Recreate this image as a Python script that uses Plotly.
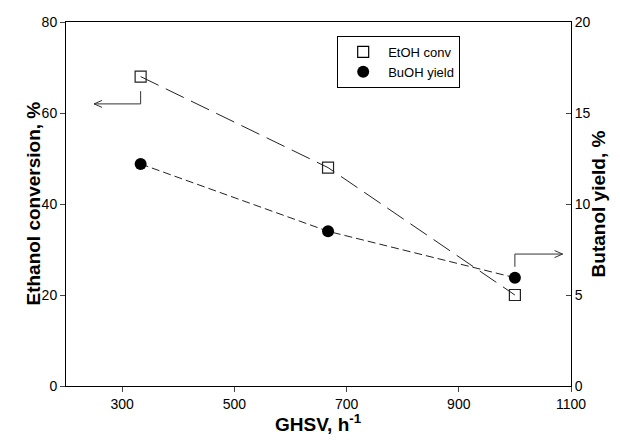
import plotly.graph_objects as go

ghsv = [333, 667, 1000]
etoh_conv = [68, 48, 20]
buoh_yield = [12.2, 8.5, 5.95]

x_ticks = [300, 500, 700, 900, 1100]
y_left_ticks = [0, 20, 40, 60, 80]
y_right_ticks = [0, 5, 10, 15, 20]

FONT = "Liberation Sans, Arial, sans-serif"

fig = go.Figure()

# data lines
fig.add_trace(go.Scatter(x=ghsv, y=etoh_conv, mode="lines+markers", showlegend=False,
                         line=dict(color="#222", width=1, dash="20px,8px"),
                         marker=dict(symbol="square-open", size=11, color="#222",
                                     line=dict(width=1.2, color="#222"))))
fig.add_trace(go.Scatter(x=ghsv, y=buoh_yield, mode="lines+markers", showlegend=False,
                         yaxis="y2",
                         line=dict(color="#222", width=1, dash="8px,4px"),
                         marker=dict(symbol="circle", size=12, color="black")))

# legend-only traces (markers only)
fig.add_trace(go.Scatter(x=[None], y=[None], mode="markers", name="EtOH conv",
                         marker=dict(symbol="square-open", size=11, color="black",
                                     line=dict(width=1.2))))
fig.add_trace(go.Scatter(x=[None], y=[None], mode="markers", name="BuOH yield",
                         yaxis="y2",
                         marker=dict(symbol="circle", size=12, color="black")))

# axis-indicator arrows (open V heads)
xpx = 505 / 900.0
ylpx = 364 / 80.0
yrpx = 364 / 20.0
# left arrow: from first EtOH point, pointing to left axis
ax0 = ghsv[0]
ay_top, ay_bot, ax_end = 64.8, 62.0, 250
hl, hw = 8 / xpx, 3.5 / ylpx
fig.add_trace(go.Scatter(x=[ax0, ax0, ax_end, None, ax_end + hl, ax_end, ax_end + hl],
                         y=[ay_top, ay_bot, ay_bot, None, ay_bot + hw, ay_bot, ay_bot - hw],
                         mode="lines", showlegend=False, hoverinfo="skip",
                         line=dict(color="#333", width=1)))
# right arrow: from last BuOH point, pointing to right axis
bx0 = ghsv[2]
by_bot, by_top, bx_end = 6.55, 7.25, 1085
hl2, hw2 = 8 / xpx, 3.5 / yrpx
fig.add_trace(go.Scatter(x=[bx0, bx0, bx_end, None, bx_end - hl2, bx_end, bx_end - hl2],
                         y=[by_bot, by_top, by_top, None, by_top + hw2, by_top, by_top - hw2],
                         mode="lines", showlegend=False, hoverinfo="skip", yaxis="y2",
                         line=dict(color="#333", width=1)))

fig.update_layout(
    width=620, height=446,
    margin=dict(l=66, r=49, t=22, b=60),
    paper_bgcolor="white", plot_bgcolor="white",
    font=dict(family=FONT, size=14, color="black"),
    showlegend=True,
    legend=dict(x=0.537, y=0.9615, xanchor="left", yanchor="top",
                bordercolor="black", borderwidth=1, bgcolor="white",
                font=dict(size=13, family=FONT), itemwidth=40,
                tracegroupgap=0),
    xaxis=dict(range=[200, 1100], tickvals=x_ticks, ticks="outside", ticklen=5,
               showline=True, linecolor="black", linewidth=1, mirror=True,
               showgrid=False, zeroline=False, tickfont=dict(size=14)),
    yaxis=dict(range=[0, 80], tickvals=y_left_ticks, ticks="outside", ticklen=5,
               showline=True, linecolor="black", linewidth=1,
               showgrid=False, zeroline=False, tickfont=dict(size=14)),
    yaxis2=dict(range=[0, 20], tickvals=y_right_ticks, ticks="inside", ticklen=5,
                overlaying="y", side="right",
                showline=True, linecolor="black", linewidth=1,
                showgrid=False, zeroline=False, tickfont=dict(size=14)),
    annotations=[
        dict(text="<b>Ethanol conversion, %</b>", xref="paper", yref="paper",
             x=-0.091, y=0.5, textangle=-90, showarrow=False,
             font=dict(size=19, family=FONT)),
        dict(text="<b>Butanol yield, %</b>", xref="paper", yref="paper",
             x=1.079, y=0.5, textangle=-90, showarrow=False,
             font=dict(size=19, family=FONT)),
        dict(text="<b>GHSV, h<sup>-1</sup></b>", xref="paper", yref="paper",
             x=0.5, y=-0.14, showarrow=False,
             font=dict(size=19, family=FONT)),
    ],
)

fig.write_html("out.html")
